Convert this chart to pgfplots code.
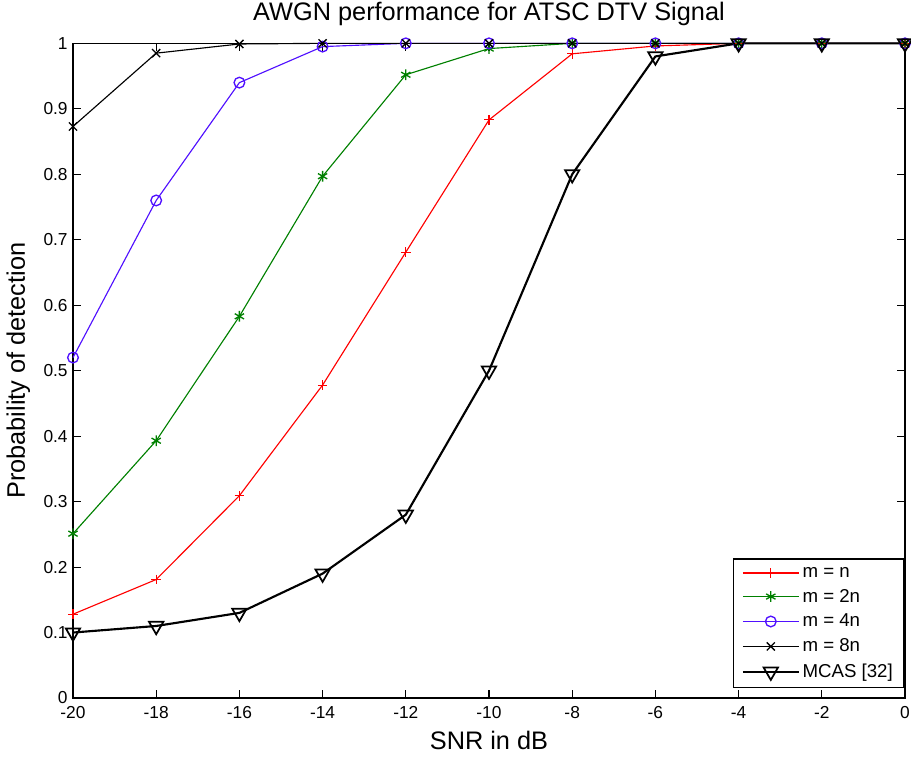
\documentclass[border=0pt]{standalone}
\usepackage{fontspec}
\setmainfont{Liberation Sans}
\usepackage{pgfplots}
\pgfplotsset{compat=1.18}
\definecolor{mred}{RGB}{255,0,0}
\definecolor{mgreen}{RGB}{0,128,0}
\definecolor{mblue}{RGB}{80,16,255}
\begin{document}
\begin{tikzpicture}
\useasboundingbox (-54.75pt,-45pt) rectangle (628.5pt,523.5pt);
\begin{axis}[
  at={(0,0)}, anchor=south west,
  scale only axis, width=624pt, height=491pt,
  xmin=-20, xmax=0, ymin=0, ymax=1,
  clip=false,
  xtick={-20,-18,-16,-14,-12,-10,-8,-6,-4,-2,0},
  ytick={0,0.1,0.2,0.3,0.4,0.5,0.6,0.7,0.8,0.9,1},
  yticklabels={0,0.1,0.2,0.3,0.4,0.5,0.6,0.7,0.8,0.9,1},
  tick align=inside, tick pos=both, major tick length=6pt,
  axis line style={line width=0.8pt},
  every tick/.style={black, line width=0.8pt},
  /pgf/number format/assume math mode=true,
  tick label style={font=\fontsize{13pt}{15pt}\selectfont},
  xticklabel style={yshift=-3pt},
  yticklabel style={xshift=-0.5pt},
  title={AWGN performance for ATSC DTV Signal},
  title style={font=\fontsize{19pt}{21pt}\selectfont, at={(axis description cs:0.5,1)}, anchor=base, yshift=11pt},
  xlabel={SNR in dB},
  xlabel style={font=\fontsize{19pt}{21pt}\selectfont, at={(axis description cs:0.5,0)}, anchor=center, yshift=-32pt},
  ylabel={Probability of detection},
  ylabel style={font=\fontsize{19pt}{21pt}\selectfont, at={(axis description cs:-0.0657,0.5)}, anchor=center},
  legend cell align=left,
  legend style={at={(axis description cs:1,0)}, anchor=south east, xshift=-0.75pt, yshift=7.5pt,
    draw=black, line width=0.8pt, font=\fontsize{14pt}{16pt}\selectfont,
    inner xsep=6pt, inner ysep=4pt, row sep=3.5pt,
    /tikz/every even column/.append style={column sep=3pt}},
  legend image code/.code={\draw[mark repeat=2,mark phase=2,#1] plot coordinates {(0pt,0pt) (21pt,0pt) (42pt,0pt)};},
]
\addplot[color=mred, line width=0.85pt, mark=+, mark size=3.6pt, mark options={solid}] coordinates {
(-20,0.128) (-18,0.181) (-16,0.309) (-14,0.478) (-12,0.681) (-10,0.883) (-8,0.984) (-6,0.996) (-4,1) (-2,1) (0,1)};
\addlegendentry{m = n}
\addplot[color=mgreen, line width=0.85pt, mark=asterisk, mark size=4pt, mark options={solid, line width=1pt}] coordinates {
(-20,0.251) (-18,0.393) (-16,0.583) (-14,0.797) (-12,0.952) (-10,0.992) (-8,1) (-6,1) (-4,1) (-2,1) (0,1)};
\addlegendentry{m = 2n}
\addplot[color=mblue, line width=0.85pt, mark=o, mark size=4pt, mark options={solid, line width=1pt}] coordinates {
(-20,0.52) (-18,0.76) (-16,0.94) (-14,0.995) (-12,1) (-10,1) (-8,1) (-6,1) (-4,1) (-2,1) (0,1)};
\addlegendentry{m = 4n}
\addplot[color=black, line width=0.85pt, mark=x, mark size=4.3pt, mark options={solid, line width=1pt}] coordinates {
(-20,0.873) (-18,0.985) (-16,0.999) (-14,1) (-12,1) (-10,1) (-8,1) (-6,1) (-4,1) (-2,1) (0,1)};
\addlegendentry{m = 8n}
\addplot[color=black, line width=1.6pt, mark=triangle, mark size=6.2pt, mark options={solid, rotate=180, line width=1.3pt}] coordinates {
(-20,0.10) (-18,0.11) (-16,0.13) (-14,0.19) (-12,0.28) (-10,0.50) (-8,0.80) (-6,0.98) (-4,1) (-2,1) (0,1)};
\addlegendentry{MCAS [32]}
\end{axis}
\end{tikzpicture}
\end{document}
